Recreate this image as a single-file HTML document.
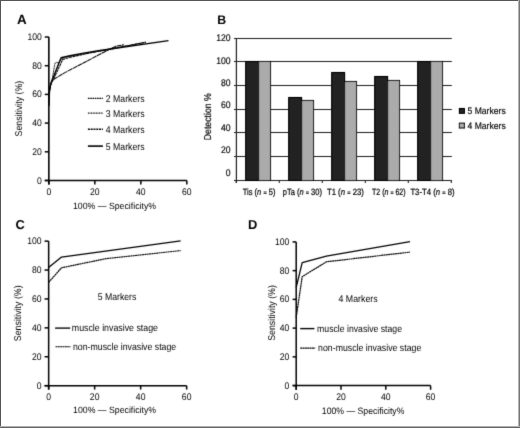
<!DOCTYPE html>
<html><head><meta charset="utf-8"><style>
html,body{margin:0;padding:0;background:#fff;}
body{width:520px;height:428px;overflow:hidden;}
.b{position:absolute;}
svg{position:absolute;left:0;top:0;will-change:transform;text-rendering:geometricPrecision;}
text{font-family:"Liberation Sans", sans-serif;fill:#000;}
</style></head><body>
<div class="b" style="left:0;top:0;width:520px;height:1px;background:#555"></div>
<div class="b" style="left:0;top:0;width:1px;height:428px;background:#555"></div>
<div class="b" style="left:518px;top:0;width:1px;height:428px;background:#b3b3b3"></div>
<div class="b" style="left:519px;top:0;width:1px;height:428px;background:#777"></div>
<div class="b" style="left:0;top:426px;width:520px;height:1px;background:#b0b0b0"></div>
<div class="b" style="left:0;top:427px;width:520px;height:1px;background:#666"></div>
<svg width="520" height="428" viewBox="0 0 520 428">
<defs><filter id="soft" x="0" y="0" width="520" height="428" filterUnits="userSpaceOnUse" primitiveUnits="userSpaceOnUse"><feConvolveMatrix order="3" kernelMatrix="0.0121 0.0858 0.0121 0.0858 0.6084 0.0858 0.0121 0.0858 0.0121" edgeMode="none"/></filter></defs>
<g filter="url(#soft)">
<text x="16.90" y="23.50" font-size="13.4" font-weight="bold" >A</text>
<line x1="48.85" y1="37.00" x2="48.85" y2="184.60" stroke="#000" stroke-width="1.6" />
<line x1="44.75" y1="180.50" x2="186.85" y2="180.50" stroke="#000" stroke-width="1.6" />
<line x1="44.75" y1="180.50" x2="48.85" y2="180.50" stroke="#000" stroke-width="1.5" />
<text transform="translate(41.80,183.50) scale(1,1.12)" font-size="8.6" text-anchor="end" >0</text>
<line x1="44.75" y1="151.80" x2="48.85" y2="151.80" stroke="#000" stroke-width="1.5" />
<text transform="translate(41.80,154.80) scale(1,1.12)" font-size="8.6" text-anchor="end" >20</text>
<line x1="44.75" y1="123.10" x2="48.85" y2="123.10" stroke="#000" stroke-width="1.5" />
<text transform="translate(41.80,126.10) scale(1,1.12)" font-size="8.6" text-anchor="end" >40</text>
<line x1="44.75" y1="94.40" x2="48.85" y2="94.40" stroke="#000" stroke-width="1.5" />
<text transform="translate(41.80,97.40) scale(1,1.12)" font-size="8.6" text-anchor="end" >60</text>
<line x1="44.75" y1="65.70" x2="48.85" y2="65.70" stroke="#000" stroke-width="1.5" />
<text transform="translate(41.80,68.70) scale(1,1.12)" font-size="8.6" text-anchor="end" >80</text>
<line x1="44.75" y1="37.00" x2="48.85" y2="37.00" stroke="#000" stroke-width="1.5" />
<text transform="translate(41.80,40.00) scale(1,1.12)" font-size="8.6" text-anchor="end" >100</text>
<line x1="48.85" y1="180.50" x2="48.85" y2="184.60" stroke="#000" stroke-width="1.5" />
<text transform="translate(48.85,195.40) scale(1,1.12)" font-size="8.6" text-anchor="middle" >0</text>
<line x1="94.85" y1="180.50" x2="94.85" y2="184.60" stroke="#000" stroke-width="1.5" />
<text transform="translate(94.85,195.40) scale(1,1.12)" font-size="8.6" text-anchor="middle" >20</text>
<line x1="140.85" y1="180.50" x2="140.85" y2="184.60" stroke="#000" stroke-width="1.5" />
<text transform="translate(140.85,195.40) scale(1,1.12)" font-size="8.6" text-anchor="middle" >40</text>
<line x1="186.85" y1="180.50" x2="186.85" y2="184.60" stroke="#000" stroke-width="1.5" />
<text transform="translate(186.85,195.40) scale(1,1.12)" font-size="8.6" text-anchor="middle" >60</text>
<text transform="translate(72.90,208.70) scale(1,1.04)" font-size="8.8" textLength="83.20" lengthAdjust="spacingAndGlyphs" >100% — Specificity%</text>
<text transform="translate(21.60,108.60) rotate(-90) scale(1,1.12)" font-size="8.8" text-anchor="middle" >Sensitivity (%)</text>
<polyline points="48.70,106.00 48.90,100.00 49.60,90.00 50.50,85.00 51.30,82.20 61.10,57.80 70.00,55.70 85.00,52.90 100.00,50.50 168.50,40.60" fill="none" stroke="#000" stroke-width="1.45" stroke-linejoin="round" />
<polyline points="48.70,106.00 48.90,100.00 49.60,90.00 50.60,85.00 51.80,82.00 53.00,80.30 62.80,59.40 70.00,57.30 85.00,54.00 112.00,48.50 145.80,42.30" fill="none" stroke="#000" stroke-width="1.05" stroke-linejoin="round" stroke-dasharray="3,0.5"/>
<polyline points="48.70,106.00 48.90,100.00 49.60,90.00 50.50,85.00 52.30,79.00 53.80,69.60 55.00,63.10 56.60,62.30 58.30,63.10 60.50,60.00 65.00,57.00 85.00,53.50 110.00,49.50 145.80,42.00" fill="none" stroke="#000" stroke-width="1.0" stroke-linejoin="round" stroke-dasharray="1.2,0.5"/>
<polyline points="48.70,106.00 48.90,100.00 49.60,90.00 50.70,85.00 51.80,82.00 52.60,80.10 64.00,73.10 110.40,48.80 116.50,46.00 124.00,44.80" fill="none" stroke="#000" stroke-width="1.05" stroke-linejoin="round" stroke-dasharray="5,0.5"/>
<line x1="87.90" y1="98.40" x2="102.90" y2="98.40" stroke="#000" stroke-width="1.1" stroke-dasharray="1.6,0.7"/>
<text transform="translate(105.80,102.00) scale(1,1.12)" font-size="8.8" textLength="38.80" lengthAdjust="spacingAndGlyphs" >2 Markers</text>
<line x1="87.90" y1="113.10" x2="102.90" y2="113.10" stroke="#000" stroke-width="1.1" stroke-dasharray="1,0.6"/>
<text transform="translate(105.80,116.70) scale(1,1.12)" font-size="8.8" textLength="38.80" lengthAdjust="spacingAndGlyphs" >3 Markers</text>
<line x1="87.90" y1="129.30" x2="102.90" y2="129.30" stroke="#000" stroke-width="1.5" stroke-dasharray="2,0.8"/>
<text transform="translate(105.80,132.90) scale(1,1.12)" font-size="8.8" textLength="38.80" lengthAdjust="spacingAndGlyphs" >4 Markers</text>
<line x1="87.90" y1="146.10" x2="102.90" y2="146.10" stroke="#000" stroke-width="1.6" />
<text transform="translate(105.80,149.70) scale(1,1.12)" font-size="8.8" textLength="38.80" lengthAdjust="spacingAndGlyphs" >5 Markers</text>
<text x="217.30" y="24.10" font-size="12.3" font-weight="bold" >B</text>
<line x1="234.00" y1="156.50" x2="451.80" y2="156.50" stroke="#202020" stroke-width="1.2" />
<line x1="234.00" y1="132.50" x2="451.80" y2="132.50" stroke="#202020" stroke-width="1.2" />
<line x1="234.00" y1="109.50" x2="451.80" y2="109.50" stroke="#202020" stroke-width="1.2" />
<line x1="234.00" y1="85.50" x2="451.80" y2="85.50" stroke="#202020" stroke-width="1.2" />
<line x1="234.00" y1="61.50" x2="451.80" y2="61.50" stroke="#202020" stroke-width="1.2" />
<line x1="234.00" y1="38.50" x2="451.80" y2="38.50" stroke="#202020" stroke-width="1.2" />
<line x1="234.00" y1="180.50" x2="451.80" y2="180.50" stroke="#202020" stroke-width="1.2" />
<line x1="236.40" y1="38.00" x2="236.40" y2="183.00" stroke="#202020" stroke-width="1.2" />
<line x1="236.30" y1="180.50" x2="236.30" y2="183.00" stroke="#202020" stroke-width="1.1" />
<line x1="279.30" y1="180.50" x2="279.30" y2="183.00" stroke="#202020" stroke-width="1.1" />
<line x1="322.30" y1="180.50" x2="322.30" y2="183.00" stroke="#202020" stroke-width="1.1" />
<line x1="365.30" y1="180.50" x2="365.30" y2="183.00" stroke="#202020" stroke-width="1.1" />
<line x1="408.30" y1="180.50" x2="408.30" y2="183.00" stroke="#202020" stroke-width="1.1" />
<line x1="451.30" y1="180.50" x2="451.30" y2="183.00" stroke="#202020" stroke-width="1.1" />
<text transform="translate(230.60,41.40) scale(1,1.12)" font-size="8.6" text-anchor="end" stroke="#000" stroke-width="0.15">120</text>
<text transform="translate(230.60,63.75) scale(1,1.12)" font-size="8.6" text-anchor="end" stroke="#000" stroke-width="0.15">100</text>
<text transform="translate(230.60,86.10) scale(1,1.12)" font-size="8.6" text-anchor="end" stroke="#000" stroke-width="0.15">80</text>
<text transform="translate(230.60,108.45) scale(1,1.12)" font-size="8.6" text-anchor="end" stroke="#000" stroke-width="0.15">60</text>
<text transform="translate(230.60,130.80) scale(1,1.12)" font-size="8.6" text-anchor="end" stroke="#000" stroke-width="0.15">40</text>
<text transform="translate(230.60,153.15) scale(1,1.12)" font-size="8.6" text-anchor="end" stroke="#000" stroke-width="0.15">20</text>
<text transform="translate(230.60,175.50) scale(1,1.12)" font-size="8.6" text-anchor="end" stroke="#000" stroke-width="0.15">0</text>
<text transform="translate(210.50,116.70) rotate(-90) scale(1,1.12)" font-size="8.9" text-anchor="middle" textLength="47.00" lengthAdjust="spacingAndGlyphs" stroke="#000" stroke-width="0.15">Detection %</text>
<rect x="245.70" y="61.50" width="12.9" height="119.00" fill="#212121" stroke="#000" stroke-width="1.1"/>
<rect x="258.60" y="61.50" width="11.9" height="119.00" fill="#ababab" stroke="#000" stroke-width="1.1"/>
<text transform="translate(242.80,195.20) scale(1,1.12)" font-size="8.1" textLength="32.60" lengthAdjust="spacingAndGlyphs" stroke="#000" stroke-width="0.2">Tis (<tspan font-style="italic">n</tspan> <tspan font-size="6">=</tspan> 5)</text>
<rect x="288.70" y="97.50" width="12.9" height="83.00" fill="#212121" stroke="#000" stroke-width="1.1"/>
<rect x="301.60" y="100.50" width="11.9" height="80.00" fill="#ababab" stroke="#000" stroke-width="1.1"/>
<text transform="translate(282.80,195.20) scale(1,1.12)" font-size="8.1" textLength="39.20" lengthAdjust="spacingAndGlyphs" stroke="#000" stroke-width="0.2">pTa (<tspan font-style="italic">n</tspan> <tspan font-size="6">=</tspan> 30)</text>
<rect x="331.70" y="72.50" width="12.9" height="108.00" fill="#212121" stroke="#000" stroke-width="1.1"/>
<rect x="344.60" y="81.50" width="11.9" height="99.00" fill="#ababab" stroke="#000" stroke-width="1.1"/>
<text transform="translate(326.90,195.20) scale(1,1.12)" font-size="8.1" textLength="37.00" lengthAdjust="spacingAndGlyphs" stroke="#000" stroke-width="0.2">T1 (<tspan font-style="italic">n</tspan> <tspan font-size="6">=</tspan> 23)</text>
<rect x="374.70" y="76.50" width="12.9" height="104.00" fill="#212121" stroke="#000" stroke-width="1.1"/>
<rect x="387.60" y="80.50" width="11.9" height="100.00" fill="#ababab" stroke="#000" stroke-width="1.1"/>
<text transform="translate(372.00,195.20) scale(1,1.12)" font-size="8.1" textLength="33.60" lengthAdjust="spacingAndGlyphs" stroke="#000" stroke-width="0.2">T2 (<tspan font-style="italic">n</tspan> <tspan font-size="6">=</tspan> 62)</text>
<rect x="417.70" y="61.50" width="12.9" height="119.00" fill="#212121" stroke="#000" stroke-width="1.1"/>
<rect x="430.60" y="61.50" width="11.9" height="119.00" fill="#ababab" stroke="#000" stroke-width="1.1"/>
<text transform="translate(410.40,195.20) scale(1,1.12)" font-size="8.1" textLength="44.20" lengthAdjust="spacingAndGlyphs" stroke="#000" stroke-width="0.2">T3-T4 (<tspan font-style="italic">n</tspan> <tspan font-size="6">=</tspan> 8)</text>
<rect x="459.4" y="108.5" width="5" height="4.8" fill="#212121" stroke="#000" stroke-width="1.1"/>
<rect x="459.4" y="123.2" width="5" height="4.8" fill="#ababab" stroke="#000" stroke-width="1.1"/>
<text transform="translate(467.50,113.90) scale(1,1.12)" font-size="8.5" textLength="38.20" lengthAdjust="spacingAndGlyphs" stroke="#000" stroke-width="0.15">5 Markers</text>
<text transform="translate(467.50,128.50) scale(1,1.12)" font-size="8.5" textLength="38.20" lengthAdjust="spacingAndGlyphs" stroke="#000" stroke-width="0.15">4 Markers</text>
<text x="15.60" y="229.10" font-size="12.9" font-weight="bold" >C</text>
<line x1="48.65" y1="241.15" x2="48.65" y2="389.55" stroke="#000" stroke-width="1.5" />
<line x1="44.55" y1="385.65" x2="186.65" y2="385.65" stroke="#000" stroke-width="1.5" />
<line x1="44.55" y1="385.65" x2="48.65" y2="385.65" stroke="#000" stroke-width="1.5" />
<text transform="translate(41.50,388.65) scale(1,1.12)" font-size="8.6" text-anchor="end" >0</text>
<line x1="44.55" y1="356.75" x2="48.65" y2="356.75" stroke="#000" stroke-width="1.5" />
<text transform="translate(41.50,359.75) scale(1,1.12)" font-size="8.6" text-anchor="end" >20</text>
<line x1="44.55" y1="327.85" x2="48.65" y2="327.85" stroke="#000" stroke-width="1.5" />
<text transform="translate(41.50,330.85) scale(1,1.12)" font-size="8.6" text-anchor="end" >40</text>
<line x1="44.55" y1="298.95" x2="48.65" y2="298.95" stroke="#000" stroke-width="1.5" />
<text transform="translate(41.50,301.95) scale(1,1.12)" font-size="8.6" text-anchor="end" >60</text>
<line x1="44.55" y1="270.05" x2="48.65" y2="270.05" stroke="#000" stroke-width="1.5" />
<text transform="translate(41.50,273.05) scale(1,1.12)" font-size="8.6" text-anchor="end" >80</text>
<line x1="44.55" y1="241.15" x2="48.65" y2="241.15" stroke="#000" stroke-width="1.5" />
<text transform="translate(41.50,244.15) scale(1,1.12)" font-size="8.6" text-anchor="end" >100</text>
<line x1="48.65" y1="385.65" x2="48.65" y2="389.55" stroke="#000" stroke-width="1.5" />
<text transform="translate(48.65,400.40) scale(1,1.12)" font-size="8.6" text-anchor="middle" >0</text>
<line x1="94.65" y1="385.65" x2="94.65" y2="389.55" stroke="#000" stroke-width="1.5" />
<text transform="translate(94.65,400.40) scale(1,1.12)" font-size="8.6" text-anchor="middle" >20</text>
<line x1="140.65" y1="385.65" x2="140.65" y2="389.55" stroke="#000" stroke-width="1.5" />
<text transform="translate(140.65,400.40) scale(1,1.12)" font-size="8.6" text-anchor="middle" >40</text>
<line x1="186.65" y1="385.65" x2="186.65" y2="389.55" stroke="#000" stroke-width="1.5" />
<text transform="translate(186.65,400.40) scale(1,1.12)" font-size="8.6" text-anchor="middle" >60</text>
<text transform="translate(73.10,412.50) scale(1,1.04)" font-size="8.8" textLength="83.00" lengthAdjust="spacingAndGlyphs" >100% — Specificity%</text>
<text transform="translate(21.30,313.30) rotate(-90) scale(1,1.12)" font-size="8.8" text-anchor="middle" >Sensitivity (%)</text>
<polyline points="48.60,267.50 61.50,257.10 180.60,240.80" fill="none" stroke="#000" stroke-width="1.3" stroke-linejoin="round" />
<polyline points="48.60,282.30 61.50,267.80 106.20,258.60 180.60,250.60" fill="none" stroke="#000" stroke-width="1.2" stroke-linejoin="round" stroke-dasharray="2,0.35"/>
<text transform="translate(97.70,300.10) scale(1,1.12)" font-size="8.7" textLength="38.60" lengthAdjust="spacingAndGlyphs" >5 Markers</text>
<line x1="55.10" y1="328.10" x2="70.20" y2="328.10" stroke="#000" stroke-width="1.35" />
<text transform="translate(71.80,330.90) scale(1,1.12)" font-size="8.8" textLength="86.20" lengthAdjust="spacingAndGlyphs" >muscle invasive stage</text>
<line x1="55.50" y1="346.75" x2="70.50" y2="346.75" stroke="#000" stroke-width="1.2" stroke-dasharray="2,0.35"/>
<text transform="translate(73.00,349.60) scale(1,1.12)" font-size="8.8" textLength="103.25" lengthAdjust="spacingAndGlyphs" >non-muscle invasive stage</text>
<text x="247.90" y="229.10" font-size="12.9" font-weight="bold" >D</text>
<line x1="296.20" y1="241.90" x2="296.20" y2="389.80" stroke="#000" stroke-width="1.5" />
<line x1="292.60" y1="385.60" x2="430.60" y2="385.60" stroke="#000" stroke-width="1.5" />
<line x1="292.60" y1="385.60" x2="296.20" y2="385.60" stroke="#000" stroke-width="1.5" />
<text transform="translate(289.30,388.60) scale(1,1.12)" font-size="8.6" text-anchor="end" >0</text>
<line x1="292.60" y1="356.86" x2="296.20" y2="356.86" stroke="#000" stroke-width="1.5" />
<text transform="translate(289.30,359.86) scale(1,1.12)" font-size="8.6" text-anchor="end" >20</text>
<line x1="292.60" y1="328.12" x2="296.20" y2="328.12" stroke="#000" stroke-width="1.5" />
<text transform="translate(289.30,331.12) scale(1,1.12)" font-size="8.6" text-anchor="end" >40</text>
<line x1="292.60" y1="299.38" x2="296.20" y2="299.38" stroke="#000" stroke-width="1.5" />
<text transform="translate(289.30,302.38) scale(1,1.12)" font-size="8.6" text-anchor="end" >60</text>
<line x1="292.60" y1="270.64" x2="296.20" y2="270.64" stroke="#000" stroke-width="1.5" />
<text transform="translate(289.30,273.64) scale(1,1.12)" font-size="8.6" text-anchor="end" >80</text>
<line x1="292.60" y1="241.90" x2="296.20" y2="241.90" stroke="#000" stroke-width="1.5" />
<text transform="translate(289.30,244.90) scale(1,1.12)" font-size="8.6" text-anchor="end" >100</text>
<line x1="296.20" y1="385.60" x2="296.20" y2="389.80" stroke="#000" stroke-width="1.5" />
<text transform="translate(296.20,400.40) scale(1,1.12)" font-size="8.6" text-anchor="middle" >0</text>
<line x1="341.00" y1="385.60" x2="341.00" y2="389.80" stroke="#000" stroke-width="1.5" />
<text transform="translate(341.00,400.40) scale(1,1.12)" font-size="8.6" text-anchor="middle" >20</text>
<line x1="385.80" y1="385.60" x2="385.80" y2="389.80" stroke="#000" stroke-width="1.5" />
<text transform="translate(385.80,400.40) scale(1,1.12)" font-size="8.6" text-anchor="middle" >40</text>
<line x1="430.60" y1="385.60" x2="430.60" y2="389.80" stroke="#000" stroke-width="1.5" />
<text transform="translate(430.60,400.40) scale(1,1.12)" font-size="8.6" text-anchor="middle" >60</text>
<text transform="translate(321.80,414.00) scale(1,1.06)" font-size="8.8" textLength="82.60" lengthAdjust="spacingAndGlyphs" >100% — Specificity%</text>
<text transform="translate(274.60,313.00) rotate(-90) scale(1,1.12)" font-size="8.8" text-anchor="middle" >Sensitivity (%)</text>
<polyline points="296.20,287.40 302.20,262.70 326.40,256.10 410.00,241.60" fill="none" stroke="#000" stroke-width="1.3" stroke-linejoin="round" />
<polyline points="296.20,317.30 302.20,276.70 326.40,261.80 410.00,252.10" fill="none" stroke="#000" stroke-width="1.2" stroke-linejoin="round" stroke-dasharray="2,0.35"/>
<text transform="translate(338.50,302.00) scale(1,1.12)" font-size="8.7" textLength="39.10" lengthAdjust="spacingAndGlyphs" >4 Markers</text>
<line x1="300.20" y1="328.60" x2="314.40" y2="328.60" stroke="#000" stroke-width="1.4" />
<text transform="translate(317.10,331.60) scale(1,1.12)" font-size="8.8" textLength="84.90" lengthAdjust="spacingAndGlyphs" >muscle invasive stage</text>
<line x1="300.20" y1="348.20" x2="315.20" y2="348.20" stroke="#000" stroke-width="1.2" stroke-dasharray="2,0.35"/>
<text transform="translate(318.10,350.60) scale(1,1.12)" font-size="8.8" textLength="103.20" lengthAdjust="spacingAndGlyphs" >non-muscle invasive stage</text>
</g>
</svg>
</body></html>
